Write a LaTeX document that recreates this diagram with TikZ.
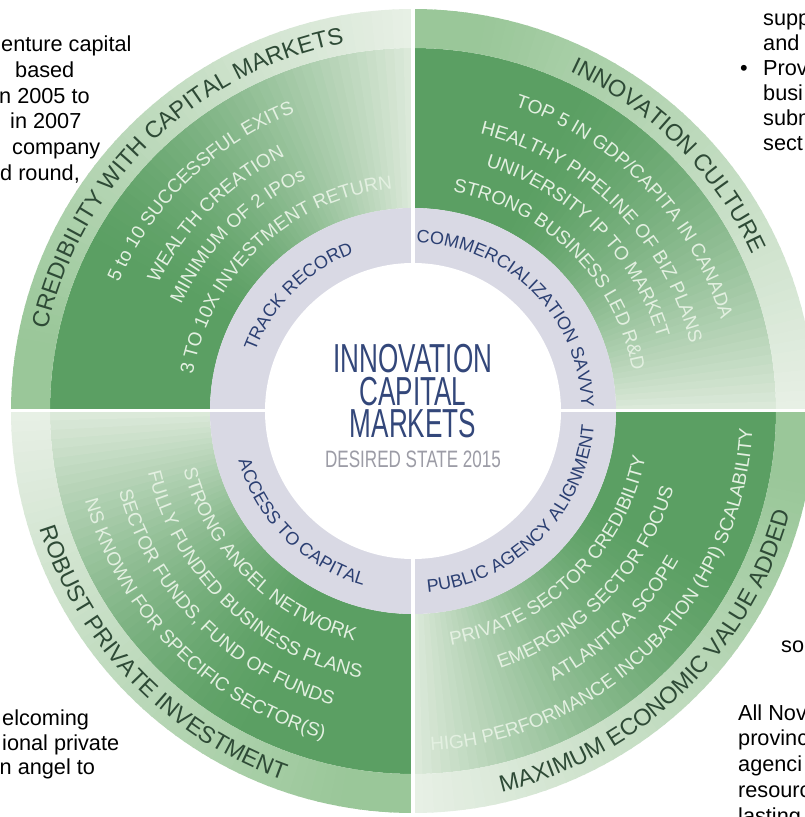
\documentclass[tikz,border=0pt]{standalone}
\usepackage{fontspec}
\setmainfont{Liberation Sans}
\newfontfamily\narrowA[FakeStretch=0.645]{Liberation Sans}
\newfontfamily\narrowB[FakeStretch=0.72]{Liberation Sans}
\usetikzlibrary{decorations.text}

\definecolor{bandDark}{HTML}{5B9F63}
\definecolor{bandLight}{HTML}{DDEADB}
\definecolor{rimDark}{HTML}{9AC799}
\definecolor{rimLight}{HTML}{E8F0E6}
\definecolor{hubRing}{HTML}{D9D9E4}
\definecolor{hubInk}{HTML}{2B3F72}
\definecolor{titleInk}{HTML}{2E4A36}
\definecolor{itemInk}{HTML}{E3F0E1}
\definecolor{centreInk}{HTML}{33477A}
\definecolor{yearInk}{HTML}{9C9CA6}

% fonts for the curved labels
\newcommand\titleFont{\fontsize{23.5}{23.5}\selectfont\color{titleInk}}
\newcommand\itemFont{\fontsize{19}{19}\selectfont\color{itemInk}}
\newcommand\hubFont{\fontsize{18}{18}\selectfont\color{hubInk}}

% text set along a circular arc: font, radius, start angle, end angle, text
\newcommand\arcText[5]{%
  \path[decorate, decoration={text along path, text align=center,
        text={|#1|#5}}] (#3:#2) arc[start angle=#3, end angle=#4, radius=#2];}

\tikzset{
  slide/.style={anchor=base west, inner sep=0pt, text=black,
    font=\fontsize{21.7}{26}\selectfont},
  centreline/.style={anchor=base, inner sep=0pt, text=centreInk,
    font=\narrowA\fontsize{40.5}{40.5}\selectfont},
  yearline/.style={anchor=base, inner sep=0pt, text=yearInk,
    font=\narrowB\fontsize{23.7}{23.7}\selectfont},
  gap/.style={white, line width=3.5pt}
}

\begin{document}
\begin{tikzpicture}[x=1pt, y=1pt]
\clip (-413,-406) rectangle (392,411);
\fill[white] (-413,-406) rectangle (392,411);

% slide text around the wheel
\node[slide] (l1) at (-412,359.3) {enture capital};
\node[slide] (l2) at (-398,333.5) {based};
\node[slide] (l3) at (-414,307.7) {n 2005 to};
\node[slide] (l4) at (-403,282.0) {in 2007};
\node[slide] (l5) at (-401,256.1) {company};
\node[slide] (l6) at (-413,230.3) {d round,};

\node[slide] (r1) at (350,385.5) {supp};
\node[slide] (r2) at (350,360.5) {and};
\node[slide] (rb) at (327,335.5) {•};
\node[slide] (r3) at (350,335.5) {Prov};
\node[slide] (r4) at (350,310.5) {busi};
\node[slide] (r5) at (350,285.5) {subm};
\node[slide] (r6) at (350,260.5) {sect};

\node[slide] (b1) at (-411,-314) {elcoming};
\node[slide] (b2) at (-411,-339) {ional private};
\node[slide] (b3) at (-413.5,-363) {n angel to};

\node[slide] (s1) at (368,-241) {so};
\node[slide] (s2) at (325,-309) {All Nov};
\node[slide] (s3) at (325,-334.8) {provinc};
\node[slide] (s4) at (325,-360.6) {agenci};
\node[slide] (s5) at (325,-386.4) {resourc};
\node[slide] (s6) at (325,-412.2) {lasting};

% green quadrants: each one fades clockwise from dark to light
\foreach \d in {180,90,0,270} {
  \foreach \i in {0,...,59} {
    \pgfmathsetmacro\a{\d-1.5*\i}
    \pgfmathsetmacro\b{\a-1.5-0.3*(\i<59)}
    \pgfmathsetmacro\t{(\i+0.5)/60}
    \pgfmathsetmacro\u{max(0,(\t-0.3)/0.7)}
    \pgfmathsetmacro\p{100*\u*sqrt(\u)}
    \pgfmathsetmacro\q{100*max(0,(\t-0.12)/0.88)}
    \fill[bandLight!\p!bandDark] (\a:203pt) arc[start angle=\a, end angle=\b, radius=203pt]
      -- (\b:363pt) arc[start angle=\b, end angle=\a, radius=363pt] -- cycle;
    \fill[rimLight!\q!rimDark] (\a:363pt) arc[start angle=\a, end angle=\b, radius=363pt]
      -- (\b:402pt) arc[start angle=\b, end angle=\a, radius=402pt] -- cycle;
  }
}

% hub ring and centre
\fill[hubRing] (0,0) circle[radius=203pt];
\fill[white] (0,0) circle[radius=148pt];
\draw[gap] (-405,0.5) -- (405,0.5);
\draw[gap] (0,-405) -- (0,405);

% outer titles
\arcText{\titleFont}{374pt}{179}{89}{CREDIBILITY WITH CAPITAL MARKETS}
\arcText{\titleFont}{374pt}{90}{0}{INNOVATION CULTURE}
\arcText{\titleFont}{391pt}{179}{269}{ROBUST PRIVATE INVESTMENT}
\arcText{\titleFont}{391pt}{269}{359}{MAXIMUM ECONOMIC VALUE ADDED}

% items in the upper quadrants
\arcText{\itemFont}{321pt}{179}{89}{5 to 10 SUCCESSFUL EXITS}
\arcText{\itemFont}{285pt}{180}{90}{WEALTH CREATION}
\arcText{\itemFont}{255pt}{180}{90}{MINIMUM OF 2 IPOs}
\arcText{\itemFont}{223pt}{178}{88}{3 TO 10X INVESTMENT RETURN}

\arcText{\itemFont}{321pt}{89}{-1}{TOP 5 IN GDP/CAPITA IN CANADA}
\arcText{\itemFont}{285pt}{90}{0}{HEALTHY PIPELINE OF BIZ PLANS}
\arcText{\itemFont}{255pt}{90}{0}{UNIVERSITY IP TO MARKET}
\arcText{\itemFont}{223pt}{90}{0}{STRONG BUSINESS LED R{\&}D}

% items in the lower quadrants
\arcText{\itemFont}{237pt}{180}{270}{STRONG ANGEL NETWORK}
\arcText{\itemFont}{272pt}{181}{271}{FULLY FUNDED BUSINESS PLANS}
\arcText{\itemFont}{305pt}{180}{270}{SECTOR FUNDS, FUND OF FUNDS}
\arcText{\itemFont}{340pt}{180}{270}{NS KNOWN FOR SPECIFIC SECTOR(S)}

\arcText{\itemFont}{237pt}{269}{359}{PRIVATE SECTOR CREDIBILITY}
\arcText{\itemFont}{272pt}{271}{361}{EMERGING SECTOR FOCUS}
\arcText{\itemFont}{305pt}{269}{359}{ATLANTICA SCOPE}
\arcText{\itemFont}{340pt}{270}{360}{HIGH PERFORMANCE INCUBATION (HPI) SCALABILITY}

% hub ring labels
\arcText{\hubFont}{168.5pt}{180}{90}{TRACK RECORD}
\arcText{\hubFont}{168.5pt}{90}{0}{COMMERCIALIZATION SAVVY}
\arcText{\hubFont}{181.5pt}{180}{270}{ACCESS TO CAPITAL}
\arcText{\hubFont}{181.5pt}{270}{360}{PUBLIC AGENCY ALIGNMENT}

% centre title
\node[centreline] (c1) at (0,39) {INNOVATION};
\node[centreline] (c2) at (0,6) {CAPITAL};
\node[centreline] (c3) at (0,-26) {MARKETS};
\node[yearline] (c4) at (0,-56) {DESIRED STATE 2015};
\end{tikzpicture}
\end{document}
